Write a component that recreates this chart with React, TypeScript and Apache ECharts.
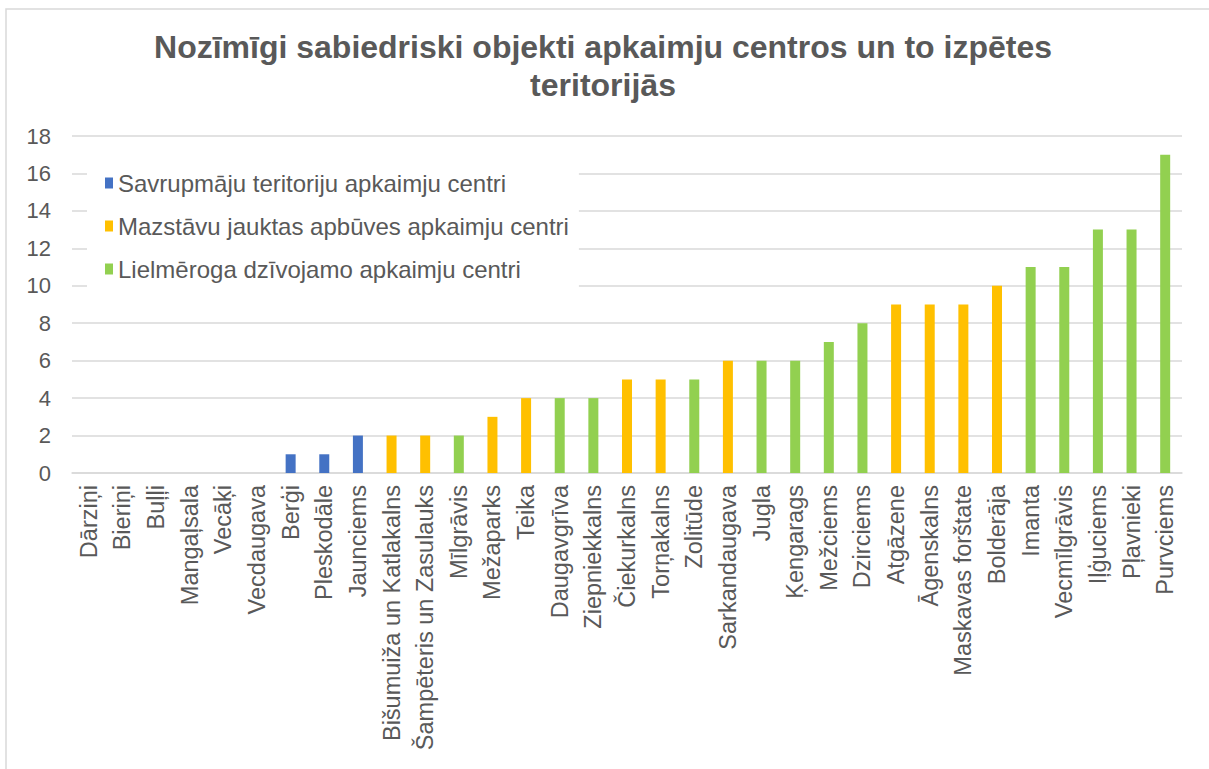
import React, { useEffect, useRef } from "react";
import * as echarts from "echarts";

const titleText = "Nozīmīgi sabiedriski objekti apkaimju centros un to izpētes\nteritorijās";

const seriesNames = [
  "Savrupmāju teritoriju apkaimju centri",
  "Mazstāvu jauktas apbūves apkaimju centri",
  "Lielmēroga dzīvojamo apkaimju centri",
];
const seriesColors = ["#4472C4", "#FFC000", "#92D050"];

const categories = [
  "Dārziņi", "Bieriņi", "Buļļi", "Mangaļsala", "Vecāķi", "Vecdaugava",
  "Berģi", "Pleskodāle", "Jaunciems", "Bišumuiža un Katlakalns",
  "Šampēteris un Zasulauks", "Mīlgrāvis", "Mežaparks", "Teika",
  "Daugavgrīva", "Ziepniekkalns", "Čiekurkalns", "Torņakalns", "Zolitūde",
  "Sarkandaugava", "Jugla", "Ķengarags", "Mežciems", "Dzirciems",
  "Atgāzene", "Āgenskalns", "Maskavas forštate", "Bolderāja", "Imanta",
  "Vecmīlgrāvis", "Iļģuciems", "Pļavnieki", "Purvciems",
];

const values = [
  0, 0, 0, 0, 0, 0,
  1, 1, 2, 2,
  2, 2, 3, 4,
  4, 4, 5, 5, 5,
  6, 6, 6, 7, 8,
  9, 9, 9, 10, 11,
  11, 13, 13, 17,
];

// 0 = Savrupmāju, 1 = Mazstāvu, 2 = Lielmēroga
const groups = [
  0, 0, 0, 0, 0, 0,
  0, 0, 0, 1,
  1, 2, 1, 1,
  2, 2, 1, 1, 2,
  1, 2, 2, 2, 2,
  1, 1, 1, 1, 2,
  2, 2, 2, 2,
];

const yTicks = { min: 0, max: 18, interval: 2 };

export default function App() {
  const ref = useRef<HTMLDivElement>(null);

  useEffect(() => {
    document.body.style.margin = "0";
    if (!ref.current) return;
    const chart = echarts.init(ref.current, null, { renderer: "svg" });
    const textColor = "#595959";
    const font = "'Liberation Sans', Arial, sans-serif";

    const series = seriesNames.map((name, si) => ({
      name,
      type: "bar",
      stack: "all",
      barWidth: 10,
      itemStyle: { color: seriesColors[si] },
      data: values.map((v, i) => (groups[i] === si && v > 0 ? v : "-")),
    }));

    chart.setOption({
      animation: false,
      textStyle: { fontFamily: font },
      graphic: [
        {
          type: "rect",
          shape: { x: 6, y: 9, width: 1220, height: 790 },
          style: { fill: "none", stroke: "#d9d9d9", lineWidth: 1.5 },
          silent: true,
          z: -10,
        },
      ],
      title: {
        text: titleText,
        left: 598,
        textAlign: "center",
        top: 23,
        textStyle: {
          fontFamily: font,
          fontSize: 32,
          fontWeight: "bold",
          color: textColor,
          lineHeight: 38,
        },
      },
      legend: {
        orient: "vertical",
        left: 87,
        top: 161,
        itemWidth: 8,
        itemHeight: 11,
        itemGap: 19,
        icon: "rect",
        backgroundColor: "#ffffff",
        padding: [10, 10, 10, 18],
        textStyle: { fontFamily: font, fontSize: 24, color: textColor },
        data: seriesNames,
      },
      grid: { left: 72, right: 27, top: 136, bottom: 296, containLabel: false },
      xAxis: {
        type: "category",
        data: categories,
        axisLine: { lineStyle: { color: "#d9d9d9", width: 1.5 } },
        axisTick: { show: false },
        axisLabel: {
          interval: 0,
          rotate: 90,
          margin: 12,
          fontSize: 23.5,
          color: textColor,
          fontFamily: font,
        },
      },
      yAxis: {
        type: "value",
        min: yTicks.min,
        max: yTicks.max,
        interval: yTicks.interval,
        axisLine: { show: false },
        axisTick: { show: false },
        splitLine: { lineStyle: { color: "#d9d9d9", width: 1.5 } },
        axisLabel: {
          fontSize: 22,
          color: textColor,
          margin: 21,
          fontFamily: font,
        },
      },
      series,
    });

    return () => chart.dispose();
  }, []);

  return <div ref={ref} style={{ width: 1209, height: 769 }} />;
}
